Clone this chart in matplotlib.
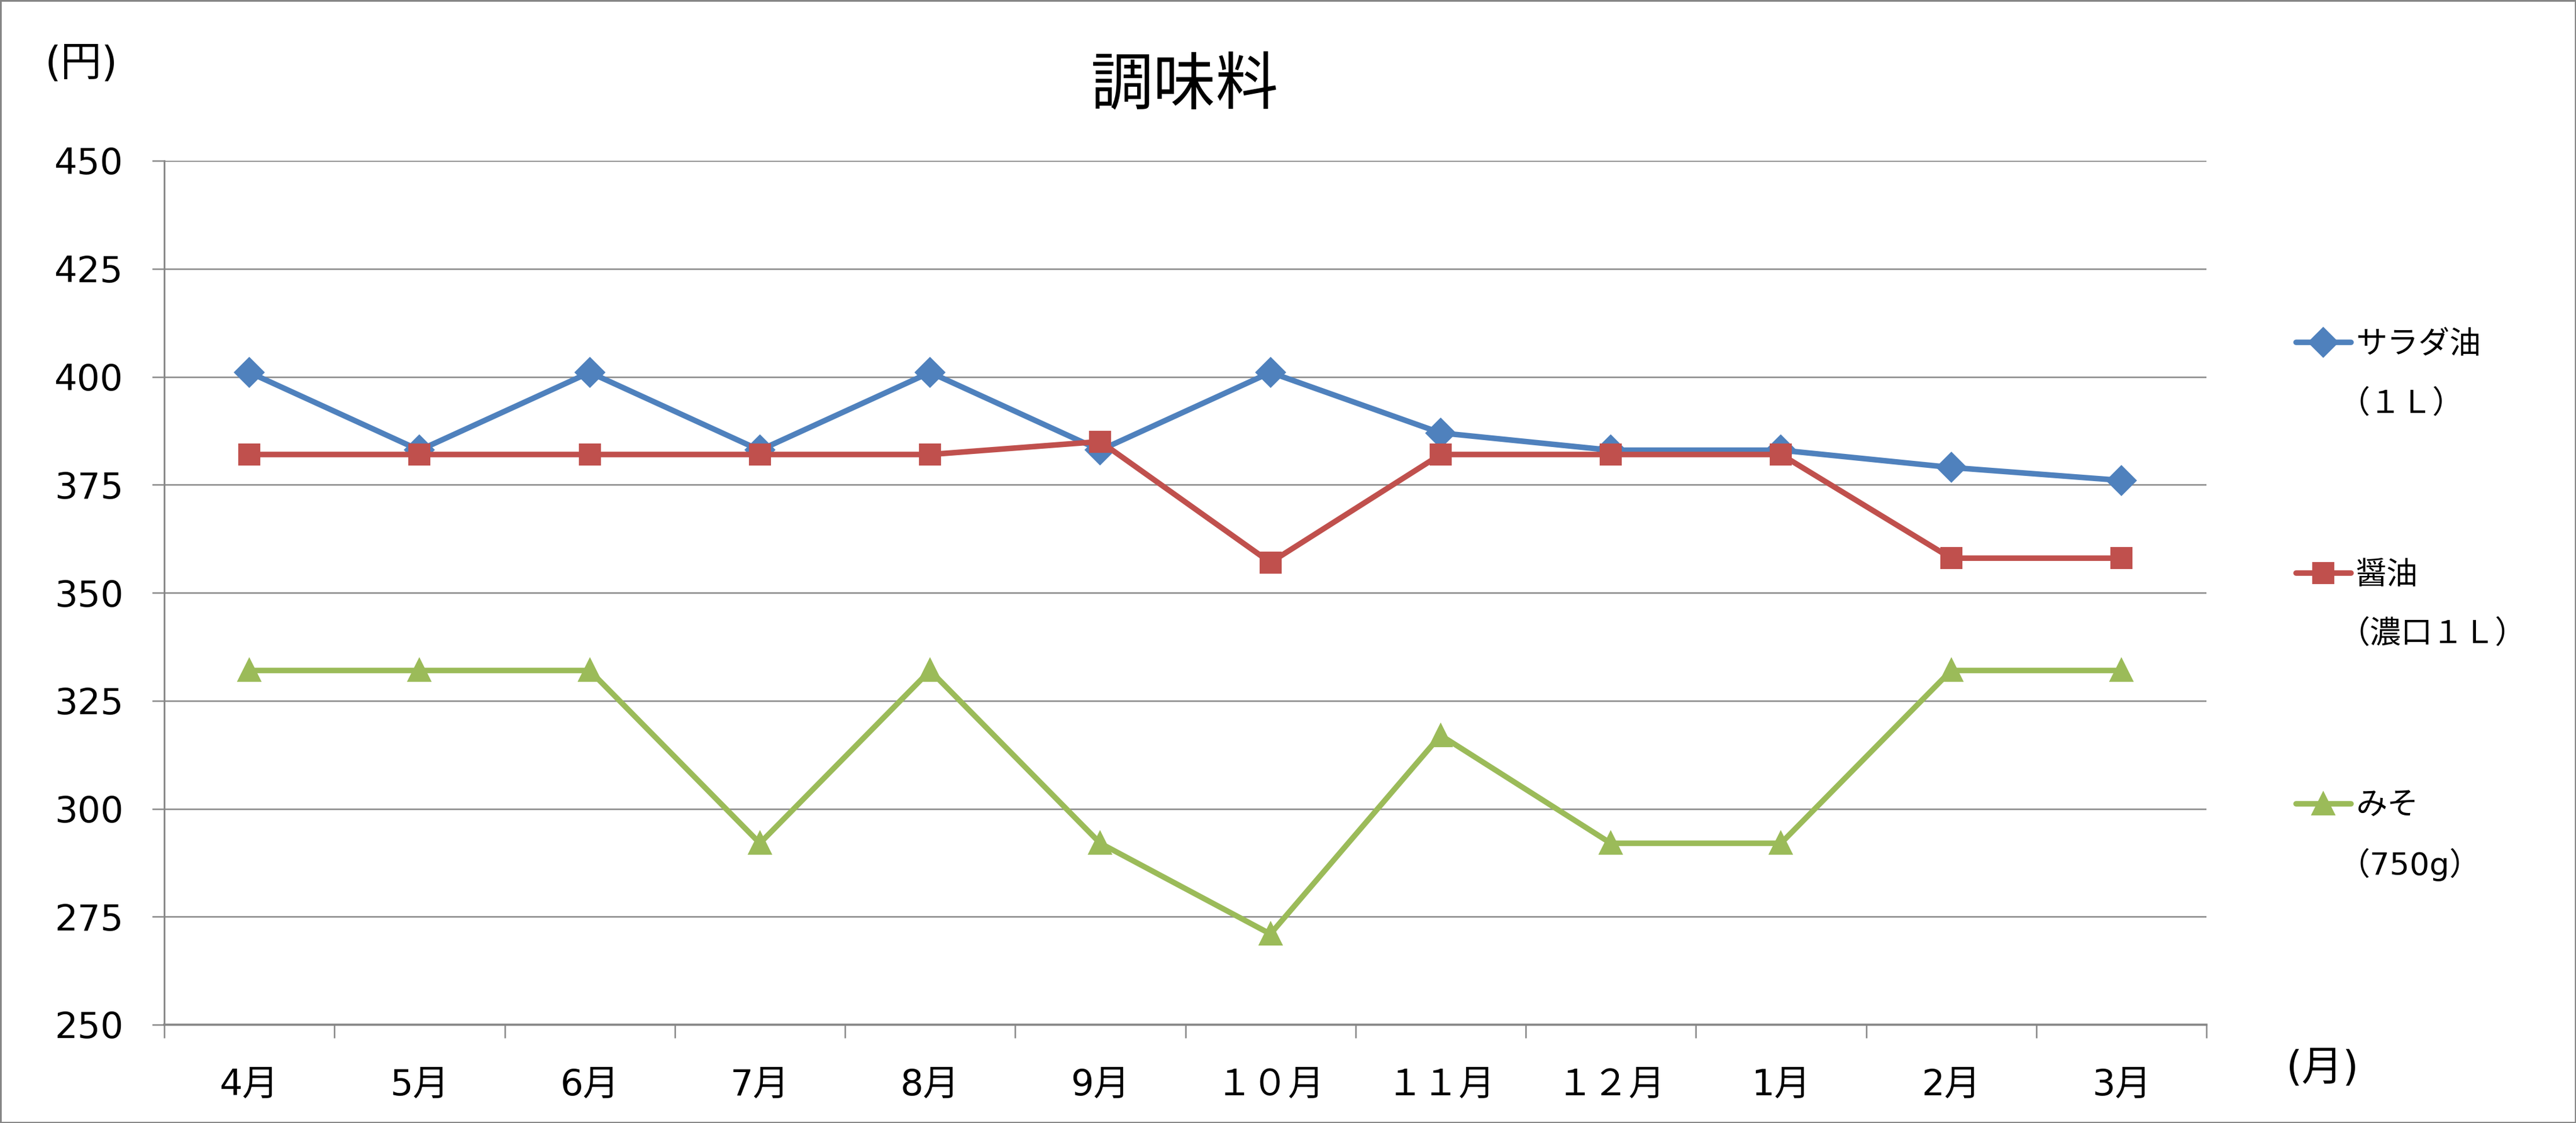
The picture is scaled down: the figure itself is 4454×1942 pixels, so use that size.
import matplotlib
matplotlib.use("Agg")
import matplotlib.pyplot as plt
from matplotlib.patches import Rectangle

plt.rcParams['font.family'] = ['DejaVu Sans', 'Noto Sans CJK JP']

months = ["4月", "5月", "6月", "7月", "8月", "9月", "１０月", "１１月", "１２月", "1月", "2月", "3月"]
salad_oil = [401, 383, 401, 383, 401, 383, 401, 387, 383, 383, 379, 376]
soy_sauce = [382, 382, 382, 382, 382, 385, 357, 382, 382, 382, 358, 358]
miso = [332, 332, 332, 292, 332, 292, 271, 317, 292, 292, 332, 332]

series_names = ["サラダ油", "醤油", "みそ"]
series_sub = ["（１Ｌ）", "（濃口１Ｌ）", "（750g）"]
series_data = [salad_oil, soy_sauce, miso]
colors = ["#4F81BD", "#C0504D", "#9BBB59"]
markers = ["D", "s", "^"]
marker_sizes = [8.2, 8.2, 8.6]

y_ticks = [250, 275, 300, 325, 350, 375, 400, 425, 450]

W, H = 4454, 1942
DPI = 300
fig = plt.figure(figsize=(W / DPI, H / DPI), dpi=DPI)
fig.patch.set_facecolor("white")

left, right = 284 / W, 3815 / W
bottom, top = 1 - 1772 / H, 1 - 278 / H
ax = fig.add_axes([left, bottom, right - left, top - bottom])

grid_c = "#868686"
x = list(range(len(months)))
lines = []
for name, data, c, m, ms in zip(series_names, series_data, colors, markers, marker_sizes):
    ln, = ax.plot(x, data, color=c, lw=2.3, marker=m, markersize=ms,
                  markeredgecolor=c, markerfacecolor=c, label=name,
                  solid_joinstyle="round", solid_capstyle="round", zorder=3)
    lines.append(ln)

ax.set_xlim(-0.5, len(months) - 0.5)
ax.set_ylim(y_ticks[0], y_ticks[-1])
ax.set_yticks(y_ticks)
ax.set_yticklabels([str(v) for v in y_ticks])
ax.yaxis.grid(True, color=grid_c, lw=0.6, zorder=0)
ax.set_axisbelow(True)

ax.set_xticks([i - 0.5 for i in range(len(months) + 1)])
ax.set_xticklabels([])
ax.set_xticks(x, minor=True)
ax.set_xticklabels(months, minor=True, fontsize=15)
ax.tick_params(axis="x", which="major", length=5.5, width=0.6, color=grid_c, direction="out")
ax.tick_params(axis="x", which="minor", length=0, pad=18)
ax.tick_params(axis="y", length=5, width=0.6, color=grid_c, direction="out", pad=12, labelsize=15)

for s in ["top", "right"]:
    ax.spines[s].set_visible(False)
ax.spines["left"].set_color(grid_c)
ax.spines["left"].set_linewidth(0.7)
ax.spines["bottom"].set_color(grid_c)
ax.spines["bottom"].set_linewidth(0.9)

# titles and unit labels
fig.text(2048 / W, 1 - 149 / H, "調味料", fontsize=26, ha="center", va="center")
fig.text(141 / W, 1 - 111 / H, "(円)", fontsize=17, ha="center", va="center")
fig.text(4016 / W, 1 - 1848 / H, "(月)", fontsize=17, ha="center", va="center")

# legend
leg = ax.legend(handles=lines, labels=series_names, loc="center left",
                bbox_to_anchor=(3970 / W, 1 - 995 / H), bbox_transform=fig.transFigure,
                frameon=False, fontsize=13, borderpad=0, borderaxespad=0,
                handlelength=1.75, handletextpad=0.15, labelspacing=6.4)
for t, sub in zip(leg.get_texts(), series_sub):
    ax.annotate(sub, xy=(0, 0.5), xycoords=t, xytext=(-7, -24.5),
                textcoords="offset points", ha="left", va="center",
                fontsize=13, zorder=10, annotation_clip=False)

fig.patches.append(Rectangle((0, 0), 1, 1, transform=fig.transFigure, fill=False,
                             edgecolor=grid_c, lw=1.2))

fig.savefig("out.png", dpi=DPI)
